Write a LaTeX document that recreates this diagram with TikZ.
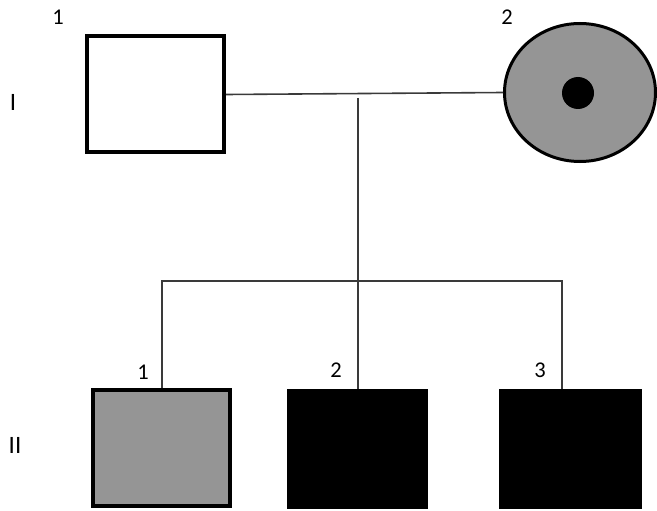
\documentclass[tikz,border=0pt]{standalone}
\usepackage{fontspec}
\setmainfont{Carlito}
\usetikzlibrary{shapes.geometric}
\definecolor{affgray}{HTML}{959595}
\definecolor{linegray}{HTML}{3A3A3A}
\begin{document}
\begin{tikzpicture}[x=1pt,y=-1pt,
  male/.style={rectangle,draw=black,line width=4pt,inner sep=0pt,minimum width=137pt,minimum height=116pt},
  female/.style={ellipse,draw=black,line width=3pt,inner sep=0pt,minimum width=151pt,minimum height=138pt},
  link/.style={draw=linegray,line width=1.6pt},
  num/.style={font=\fontsize{22.5}{22.5}\selectfont,inner sep=0pt},
  gen/.style={font=\fontsize{25}{25}\selectfont,inner sep=0pt}]
\useasboundingbox (0,0) rectangle (657,511);

% generation I
\node[male,fill=white] (i1) at (155.5,94.5) {};
\node[female,fill=affgray] (i2) at (580,92.5) {};
\fill[black] (578,93) circle (16pt);
\node[num] (li1) at (58,17) {1};
\node[num] (li2) at (507,17) {2};
\node[gen] (gi) at (13,102) {I};

% generation II
\node[male,fill=affgray] (c1) at (161.5,448) {};
\node[male,fill=black,line width=1pt,minimum width=140pt,minimum height=119pt] (c2) at (357,448.5) {};
\node[male,fill=black,line width=1pt,minimum width=142pt,minimum height=119pt] (c3) at (570,448.5) {};
\node[num] (lc1) at (143,372) {1};
\node[num] (lc2) at (336,370) {2};
\node[num] (lc3) at (540,370) {3};
\node[gen] (gii) at (15,445) {II};

% mating line, descent line and sibship line
\coordinate (d) at (358,98);
\coordinate (sibL) at (162,281);
\coordinate (sibM) at (358,281);
\coordinate (sibR) at (562,281);
\draw[link] (i1.east) -- (i2.west);
\draw[link] (d) -- (sibM);
\draw[link,line cap=rect] (sibL) -- (sibR);
\draw[link] (sibL) -- (sibL |- c1.north);
\draw[link] (sibM) -- (sibM |- c2.north);
\draw[link] (sibR) -- (sibR |- c3.north);
\end{tikzpicture}
\end{document}
